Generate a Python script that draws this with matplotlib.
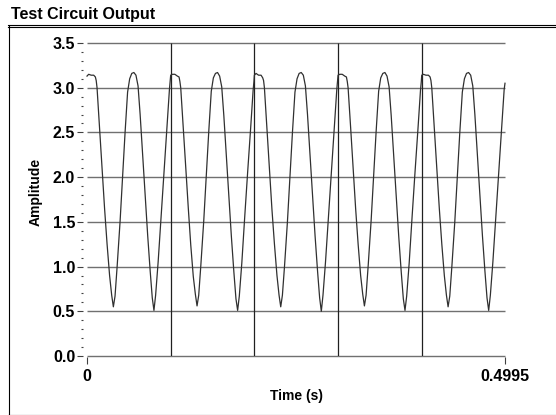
import numpy as np
import matplotlib
matplotlib.use("Agg")
import matplotlib.pyplot as plt
from matplotlib.lines import Line2D
from matplotlib.ticker import MultipleLocator

plt.rcParams["font.family"] = ["Liberation Sans", "DejaVu Sans"]

# values, time in ms
time_ms = [
    0, 2, 5, 8, 10, 11, 12, 15, 18, 21, 24, 27, 29.5, 31.5, 33.5, 36, 39.5, 42.5, 45.5, 48.5,
    51, 53.5, 56, 58.5, 61, 63.5, 66.5, 69.5, 72.5, 75.5, 78, 80, 82, 85, 88.5, 92, 95.5, 98.5, 99.5,
    100, 102, 105, 108, 110, 111, 112, 115, 118, 121, 124, 127, 129.5, 131.5, 133.5, 136, 139.5, 142.5, 145.5, 148.5,
    151, 153.5, 156, 158.5, 161, 163.5, 166.5, 169.5, 172.5, 175.5, 178, 180, 182, 185, 188.5, 192, 195.5, 198.5, 199.5,
    200, 202, 205, 208, 210, 211, 212, 215, 218, 221, 224, 227, 229.5, 231.5, 233.5, 236, 239.5, 242.5, 245.5, 248.5,
    251, 253.5, 256, 258.5, 261, 263.5, 266.5, 269.5, 272.5, 275.5, 278, 280, 282, 285, 288.5, 292, 295.5, 298.5, 299.5,
    300, 302, 305, 308, 310, 311, 312, 315, 318, 321, 324, 327, 329.5, 331.5, 333.5, 336, 339.5, 342.5, 345.5, 348.5,
    351, 353.5, 356, 358.5, 361, 363.5, 366.5, 369.5, 372.5, 375.5, 378, 380, 382, 385, 388.5, 392, 395.5, 398.5, 399.5,
    400, 402, 405, 408, 410, 411, 412, 415, 418, 421, 424, 427, 429.5, 431.5, 433.5, 436, 439.5, 442.5, 445.5, 448.5,
    451, 453.5, 456, 458.5, 461, 463.5, 466.5, 469.5, 472.5, 475.5, 478, 480, 482, 485, 488.5, 492, 495.5, 498.5, 499.5,
]
amplitude = [
    3.13, 3.15, 3.14, 3.14, 3.12, 3.08, 3.00, 2.55, 2.10, 1.65, 1.25, 0.90, 0.68, 0.55, 0.67, 1.00, 1.50, 2.00, 2.50, 2.95,
    3.10, 3.16, 3.17, 3.14, 3.02, 2.70, 2.25, 1.80, 1.35, 0.95, 0.65, 0.51, 0.68, 1.05, 1.55, 2.05, 2.55, 2.98, 3.08,
    3.14, 3.15, 3.15, 3.13, 3.12, 3.07, 3.00, 2.56, 2.11, 1.66, 1.24, 0.89, 0.69, 0.56, 0.68, 1.01, 1.51, 2.01, 2.51, 2.96,
    3.11, 3.16, 3.17, 3.13, 3.01, 2.69, 2.24, 1.79, 1.34, 0.94, 0.64, 0.51, 0.67, 1.04, 1.56, 2.06, 2.54, 2.97, 3.07,
    3.14, 3.16, 3.14, 3.14, 3.11, 3.08, 3.00, 2.55, 2.10, 1.64, 1.25, 0.90, 0.68, 0.55, 0.68, 1.00, 1.50, 2.00, 2.50, 2.95,
    3.10, 3.16, 3.17, 3.14, 3.02, 2.70, 2.25, 1.80, 1.35, 0.95, 0.65, 0.50, 0.68, 1.05, 1.55, 2.05, 2.55, 2.98, 3.08,
    3.14, 3.15, 3.15, 3.13, 3.12, 3.07, 3.00, 2.56, 2.10, 1.65, 1.25, 0.90, 0.69, 0.56, 0.68, 1.01, 1.51, 2.01, 2.51, 2.96,
    3.11, 3.16, 3.17, 3.13, 3.01, 2.69, 2.24, 1.79, 1.34, 0.94, 0.64, 0.51, 0.67, 1.04, 1.56, 2.06, 2.54, 2.97, 3.07,
    3.14, 3.15, 3.14, 3.14, 3.12, 3.08, 3.00, 2.55, 2.10, 1.65, 1.25, 0.90, 0.68, 0.55, 0.67, 1.00, 1.50, 2.00, 2.50, 2.95,
    3.10, 3.16, 3.17, 3.14, 3.02, 2.70, 2.25, 1.80, 1.35, 0.95, 0.65, 0.51, 0.68, 1.05, 1.55, 2.05, 2.55, 2.98, 3.05,
]

y_ticks = [0.0, 0.5, 1.0, 1.5, 2.0, 2.5, 3.0, 3.5]
x_ticks = [0, 0.4995]
x_tick_labels = ["0", "0.4995"]
v_grid = [0.1, 0.2, 0.3, 0.4]

W, H = 556, 415
fig = plt.figure(figsize=(W / 100, H / 100), dpi=100)
fig.patch.set_facecolor("white")

ax = fig.add_axes([87 / W, 1 - 356 / H, (505 - 87) / W, (356 - 43) / H])
ax.set_xlim(x_ticks[0], x_ticks[-1])
ax.set_ylim(y_ticks[0], y_ticks[-1])

# grid
ax.hlines(y_ticks, x_ticks[0], x_ticks[-1], color="#707070", lw=1.0, clip_on=False, zorder=1)
ax.vlines(v_grid, y_ticks[0], y_ticks[-1], color="#202020", lw=0.9, zorder=1)

t = np.array(time_ms) / 1000.0
ax.plot(t, amplitude, color="#303030", lw=0.9, clip_on=False, zorder=2)

for s in ax.spines.values():
    s.set_visible(False)
ax.spines["left"].set_visible(True)
ax.spines["left"].set_color("none")
ax.spines["left"].set_position(("outward", 3))
ax.spines["bottom"].set_visible(True)
ax.spines["bottom"].set_color("none")
ax.spines["bottom"].set_position(("outward", 1))

ax.set_yticks(y_ticks)
ax.set_yticklabels([f"{v:.1f}" for v in y_ticks], fontsize=11.5, fontweight="bold")
ax.yaxis.set_minor_locator(MultipleLocator(0.1))
ax.tick_params(axis="y", which="major", length=4, width=0.8, pad=1.5, color="#404040")
ax.tick_params(axis="y", which="minor", length=1.8, width=0.8, color="#404040")

ax.set_xticks(x_ticks)
ax.set_xticklabels(x_tick_labels, fontsize=11.5, fontweight="bold")
ax.tick_params(axis="x", which="major", length=5, width=0.8, pad=3, color="#404040")

# labels
fig.text(11 / W, 1 - 14 / H, "Test Circuit Output", fontsize=11.5, fontweight="bold",
         ha="left", va="center")
fig.text(36 / W, 1 - 192 / H, "Amplitude", fontsize=10, fontweight="bold",
         rotation=90, ha="center", va="center")
fig.text(297 / W, 1 - 396 / H, "Time (s)", fontsize=10, fontweight="bold",
         ha="center", va="center")

# outer frame
for yy in (25.5, 27.5):
    fig.add_artist(Line2D([8 / W, 1], [1 - yy / H] * 2, color="black", lw=0.8))
fig.add_artist(Line2D([8.5 / W] * 2, [1 - 26 / H, 1 - 414.5 / H], color="black", lw=0.8))
fig.add_artist(Line2D([8 / W, 1], [1 - 414.5 / H] * 2, color="black", lw=0.8))

fig.savefig("out.png", dpi=100)
